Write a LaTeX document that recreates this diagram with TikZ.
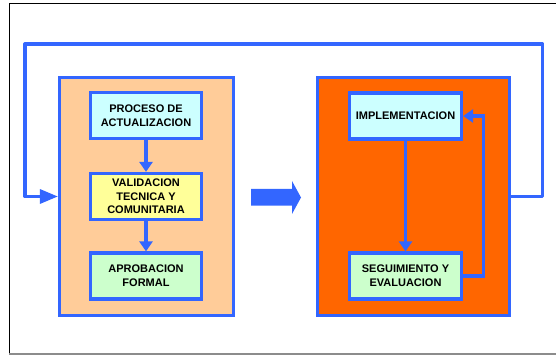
\documentclass[tikz,border=0pt]{standalone}
\usepackage{fontspec}
\setmainfont{Liberation Sans}
\usetikzlibrary{arrows.meta}
\definecolor{lblue}{HTML}{3366FF}
\definecolor{peach}{HTML}{FFCC99}
\definecolor{orng}{HTML}{FF6600}
\definecolor{cyanbox}{HTML}{CCFFFF}
\definecolor{yelbox}{HTML}{FFFF99}
\definecolor{grnbox}{HTML}{CCFFCC}
\tikzset{
  panel/.style={draw=lblue, line width=3.2pt, minimum width=174pt, minimum height=238pt, inner sep=0pt},
  stepbox/.style={draw=lblue, line width=3.2pt, minimum width=111pt, minimum height=46pt, inner sep=1pt,
    align=center, font=\fontsize{11}{13.7}\selectfont\bfseries, text=black},
  conn/.style={draw=lblue, line width=3.2pt},
  tipS/.style={-{Triangle[length=10pt,width=13pt]}},
  tipL/.style={-{Triangle[length=18pt,width=14pt]}},
}
\begin{document}
\begin{tikzpicture}[x=1pt,y=1pt]
\useasboundingbox (0,0) rectangle (556,356);
% frame
\draw[black, line width=1pt] (9,2) -- (9,352.5) -- (556,352.5);
\draw[black!45, line width=2pt] (9,2) -- (556,2);
% panels
\node[panel, fill=peach, minimum width=174pt] (lbox) at (146.5,159.5) {};
\node[panel, fill=orng, minimum width=192pt] (rbox) at (413.5,159.5) {};
% left steps
\node[stepbox, fill=cyanbox] (p1) at (146,240.5) {PROCESO DE\\ACTUALIZACION};
\node[stepbox, fill=yelbox] (p2) at (146,159.5) {VALIDACION\\TECNICA Y\\COMUNITARIA};
\node[stepbox, fill=grnbox] (p3) at (146,80) {APROBACION\\FORMAL};
% right steps
\node[stepbox, fill=cyanbox, minimum width=112pt] (impl) at (405.5,240) {IMPLEMENTACION};
\node[stepbox, fill=grnbox, minimum width=112pt] (seg) at (405.5,80) {SEGUIMIENTO Y\\EVALUACION};
% connectors
\draw[conn, tipS] (p1) -- (p2);
\draw[conn, tipS] (p2) -- (p3);
\draw[conn, tipS] (impl) -- (seg);
\draw[conn, tipS] (seg.east) -- ++(20,0) |- (impl.east);
% outer loop
\coordinate (tr) at (542.5,312);
\coordinate (tl) at (25,312);
\draw[conn, tipL, line join=round] (rbox.east) -| (tr) -- (tl) |- (lbox.west);
% block arrow
\fill[lblue] (251,167) -- (292,167) -- (292,175) -- (301,158.5) -- (292,142) -- (292,150.3) -- (251,150.3) -- cycle;
\end{tikzpicture}
\end{document}
